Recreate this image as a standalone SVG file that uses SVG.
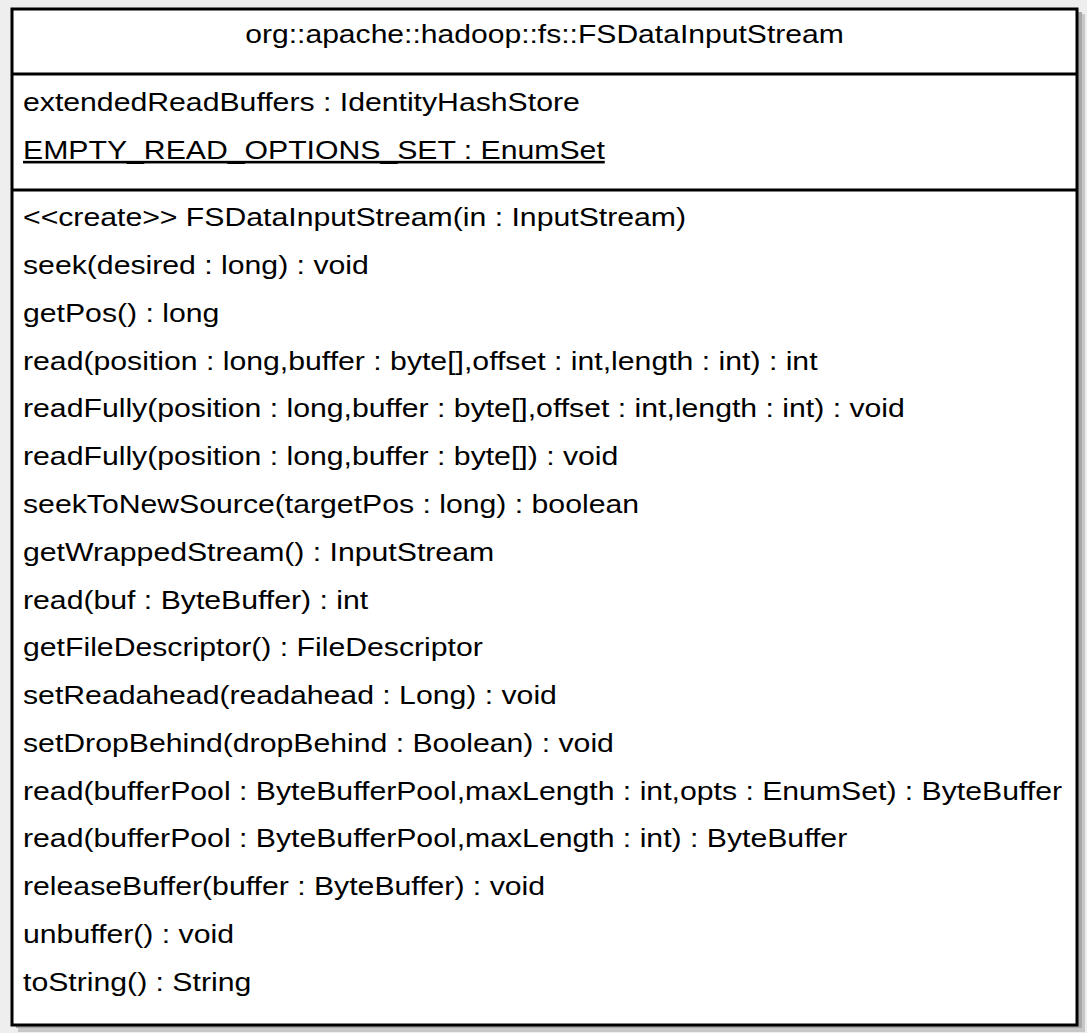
<svg xmlns="http://www.w3.org/2000/svg" width="1087" height="1033" viewBox="0 0 1087 1033">
  <style>
    .t { font-family: "Liberation Sans", Arial, sans-serif; font-size: 26px; fill: #000; }
    .u { text-decoration: underline; }
    .line { stroke: #000; stroke-width: 3; fill: none; }
  </style>
  <rect x="0" y="0" width="1087" height="1033" fill="#eeeeee"/>
  <g id="FSDataInputStream">
    <!-- drop shadow -->
    <rect x="18" y="14" width="1067" height="1018" fill="#c8c8c8"/>
    <rect x="16" y="12" width="1066" height="1016" fill="#a8a8a8"/>
    <!-- class box -->
    <rect x="12" y="9" width="1065" height="1016" fill="#ffffff" stroke="#000" stroke-width="3"/>
    <line class="line" x1="12" y1="74" x2="1077" y2="74"/>
    <line class="line" x1="12" y1="190" x2="1077" y2="190"/>
    <!-- class name, widened glyph run -->
    <g transform="translate(544.5,0) scale(1.157,1)">
      <text class="t" x="0" y="43" text-anchor="middle">org::apache::hadoop::fs::FSDataInputStream</text>
    </g>
    <!-- attributes and operations -->
    <g transform="translate(23,0) scale(1.162,1)">
      <text class="t" x="0" y="111">extendedReadBuffers : IdentityHashStore</text>
      <text class="t u" x="0" y="159">EMPTY_READ_OPTIONS_SET : EnumSet</text>
      <text class="t" x="0" y="226">&lt;&lt;create&gt;&gt; FSDataInputStream(in : InputStream)</text>
      <text class="t" x="0" y="274">seek(desired : long) : void</text>
      <text class="t" x="0" y="322">getPos() : long</text>
      <text class="t" x="0" y="370">read(position : long,buffer : byte[],offset : int,length : int) : int</text>
      <text class="t" x="0" y="417">readFully(position : long,buffer : byte[],offset : int,length : int) : void</text>
      <text class="t" x="0" y="465">readFully(position : long,buffer : byte[]) : void</text>
      <text class="t" x="0" y="513">seekToNewSource(targetPos : long) : boolean</text>
      <text class="t" x="0" y="561">getWrappedStream() : InputStream</text>
      <text class="t" x="0" y="609">read(buf : ByteBuffer) : int</text>
      <text class="t" x="0" y="656">getFileDescriptor() : FileDescriptor</text>
      <text class="t" x="0" y="704">setReadahead(readahead : Long) : void</text>
      <text class="t" x="0" y="752">setDropBehind(dropBehind : Boolean) : void</text>
      <text class="t" x="0" y="800">read(bufferPool : ByteBufferPool,maxLength : int,opts : EnumSet) : ByteBuffer</text>
      <text class="t" x="0" y="847">read(bufferPool : ByteBufferPool,maxLength : int) : ByteBuffer</text>
      <text class="t" x="0" y="895">releaseBuffer(buffer : ByteBuffer) : void</text>
      <text class="t" x="0" y="943">unbuffer() : void</text>
      <text class="t" x="0" y="991">toString() : String</text>
    </g>
  </g>
  <g id="connectors"/>
</svg>
